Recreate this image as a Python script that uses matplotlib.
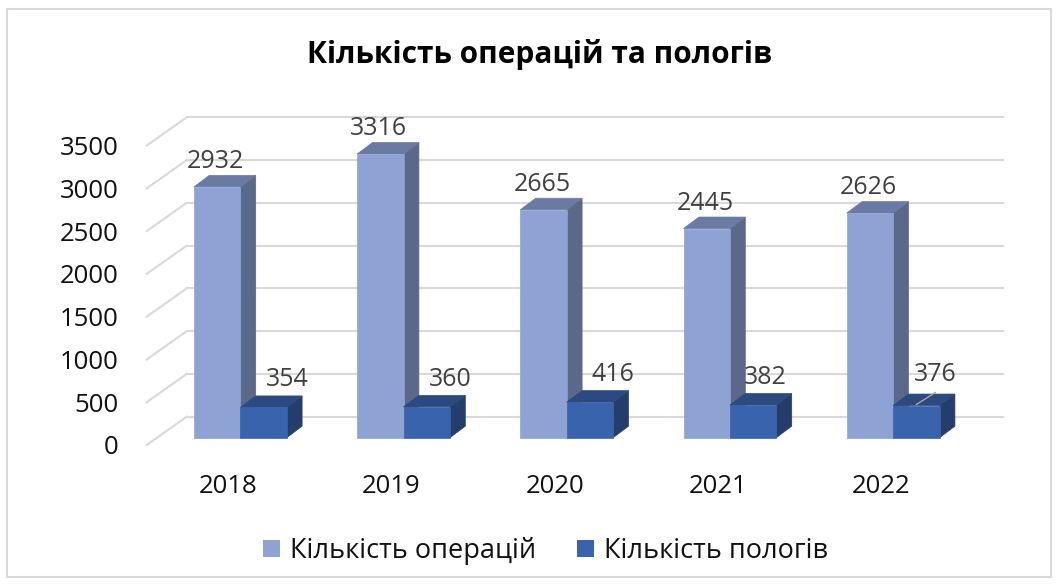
import matplotlib
matplotlib.use('Agg')
import matplotlib.pyplot as plt
from matplotlib.patches import Polygon, Rectangle, Patch

# data
years = ['2018', '2019', '2020', '2021', '2022']
operations = [2932, 3316, 2665, 2445, 2626]
births = [354, 360, 416, 382, 376]
series_names = ['Кількість операцій', 'Кількість пологів']
y_ticks = [0, 500, 1000, 1500, 2000, 2500, 3000, 3500]

# colours: front, top, side
light = ('#8FA2D4', '#6A7AA3', '#5A6889')
dark = ('#3A63AD', '#2C4A80', '#243D6B')
grid_col = '#D9D9D9'
label_col = '#404040'

plt.rcParams['font.family'] = ['Open Sans', 'DejaVu Sans']

W, H = 1059, 584
fig = plt.figure(figsize=(W / 100, H / 100), dpi=100)
fig.patch.set_facecolor('white')

# axes = front plane of the floor
ax_w, ax_h = 816, 299.4
ax = fig.add_axes([146.7 / W, (H - 445) / H, ax_w / W, ax_h / H])
ax.set_xlim(-0.5, len(years) - 0.5)
ax.set_ylim(0, 3500)
ux = len(years) / ax_w      # categories per pixel
uy = 3500 / ax_h            # values per pixel

# depth offsets (pixels -> data)
floor_dx, floor_dy = 40 * ux, 28.3 * uy
front_dx, front_dy = 12 * ux, 7.3 * uy
depth_dx, depth_dy = 15.4 * ux, 11.5 * uy
bw = 46.4 * ux

# back wall gridlines and side wall diagonals
for v in y_ticks:
    ax.plot([-0.5 + floor_dx, len(years) - 0.5 + floor_dx], [v + floor_dy] * 2,
            color=grid_col, lw=1.5, clip_on=False, zorder=1)
    ax.plot([-0.5, -0.5 + floor_dx], [v, v + floor_dy],
            color=grid_col, lw=1.5, clip_on=False, zorder=1)


def box(x0, h, cols, z):
    x = x0 + front_dx
    y = front_dy
    side = Polygon([(x + bw, y), (x + bw + depth_dx, y + depth_dy),
                    (x + bw + depth_dx, y + h + depth_dy), (x + bw, y + h)],
                   closed=True, facecolor=cols[2], edgecolor=cols[2], lw=0.5,
                   clip_on=False, zorder=z)
    top = Polygon([(x, y + h), (x + bw, y + h), (x + bw + depth_dx, y + h + depth_dy),
                   (x + depth_dx, y + h + depth_dy)],
                  closed=True, facecolor=cols[1], edgecolor=cols[1], lw=0.5,
                  clip_on=False, zorder=z)
    front = Rectangle((x, y), bw, h, facecolor=cols[0], edgecolor=cols[0], lw=0.5,
                      clip_on=False, zorder=z)
    ax.add_patch(side)
    ax.add_patch(top)
    ax.add_patch(front)


dark_dx = [24, 24, 23, 12, 19]
dark_dy = [21, 21, 21, 21, 25]
for i in range(len(years)):
    box(i - bw, operations[i], light, 2 + i * 2)
    box(i, births[i], dark, 3 + i * 2)
    ax.text(i - bw / 2 + front_dx - 1.5 * ux, operations[i] + front_dy + 19 * uy,
            str(operations[i]), ha='center', va='baseline', fontsize=18,
            color=label_col, zorder=20)
    xc = i + bw / 2 + front_dx
    ax.text(xc + dark_dx[i] * ux, births[i] + front_dy + dark_dy[i] * uy,
            str(births[i]), ha='center', va='baseline', fontsize=18,
            color=label_col, zorder=20)
    if i == len(years) - 1:
        top = births[i] + front_dy
        ax.plot([xc, xc + 19 * ux], [top + 1 * uy, top + 13 * uy],
                color='#A6A6A6', lw=1, clip_on=False, zorder=21)

ax.set_xticks(range(len(years)))
ax.set_xticklabels(years)
ax.set_yticks(y_ticks)
ax.set_yticklabels([str(v) for v in y_ticks])
ax.tick_params(length=0, labelsize=18.5, colors='#111111')
ax.tick_params(axis='y', pad=20)
ax.tick_params(axis='x', pad=21)
for s in ax.spines.values():
    s.set_visible(False)
ax.patch.set_alpha(0)

fig.text(539.7 / W, 1 - 55 / H, 'Кількість операцій та пологів', ha='center',
         va='center', fontsize=21.5, fontweight='bold', color='#000000')

handles = [Patch(facecolor=light[0], label=series_names[0]),
           Patch(facecolor=dark[0], label=series_names[1])]
fig.legend(handles=handles, loc='center', bbox_to_anchor=(545.5 / W, 1 - 551 / H),
           ncol=2, frameon=False, fontsize=19.5, handlelength=0.63, handleheight=0.63,
           handletextpad=0.37, columnspacing=1.48, labelcolor='#111111',
           borderpad=0, borderaxespad=0)

fig.add_artist(Rectangle((7 / W, 1 - 577 / H), 1044 / W, 568 / H,
                         transform=fig.transFigure, fill=False,
                         edgecolor=grid_col, lw=1.5))

fig.savefig('out.png', dpi=100)
